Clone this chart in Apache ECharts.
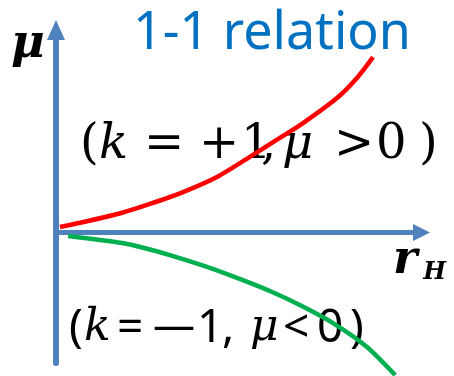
<!DOCTYPE html>
<html>
<head>
<meta charset="utf-8">
<script src="https://cdn.jsdelivr.net/npm/echarts@6/dist/echarts.min.js"></script>
<style>
  html, body { margin: 0; padding: 0; background: #ffffff; }
  #chart { width: 454px; height: 376px; }
</style>
</head>
<body>
<div id="chart"></div>
<script>
// Horizon radius r_H (abscissa) against mass parameter mu (ordinate)
const rH_pos = [0.11, 0.90, 1.85, 2.63, 3.56, 4.51, 5.43, 6.27, 6.92, 7.87, 8.43, 8.88];
const mu_pos = [0.28, 0.58, 0.99, 1.43, 2.02, 2.77, 3.77, 4.72, 5.46, 6.71, 7.71, 8.75];

const rH_neg = [0.34, 1.85, 2.58, 3.28, 4.23, 5.07, 5.99, 6.83, 7.76, 8.71, 9.50];
const mu_neg = [-0.17, -0.52, -0.82, -1.17, -1.71, -2.26, -2.91, -3.61, -4.51, -5.70, -7.10];

const axisRange = { xMin: 0, xMax: 10, yMin: -6.5, yMax: 9.6 };

const AXIS_BLUE = '#4f81bd';
const pairs = (xs, ys) => xs.map((x, i) => [x, ys[i]]);

const chart = echarts.init(document.getElementById('chart'), null, { renderer: 'canvas' });

const hiddenParts = {
  axisTick: { show: false },
  axisLabel: { show: false },
  splitLine: { show: false }
};

// Formula annotations, laid out glyph by glyph: [text, left, top, font]
const SERIF = '"DejaVu Serif"';
const SANS = '"Noto Sans"';
const upperFormula = [
  ['(', 80, 122, `48px ${SERIF}`],
  ['k', 99, 122, `italic 48px ${SERIF}`],
  ['=', 144, 122, `48px ${SERIF}`],
  ['+', 199, 122, `48px ${SERIF}`],
  ['1', 241, 122, `48px ${SERIF}`],
  [',', 261, 122, `48px ${SERIF}`],
  ['μ', 282, 122, `italic 48px ${SERIF}`],
  ['>', 334, 122, `48px ${SERIF}`],
  ['0', 376, 122, `48px ${SERIF}`],
  [')', 419, 122, `48px ${SERIF}`]
];
const lowerFormula = [
  ['(', 69, 306, `46px ${SANS}`],
  ['k', 84, 307, `italic 44px ${SERIF}`],
  ['=', 117, 306, `46px ${SANS}`],
  ['—', 153, 307, `42px ${SANS}`],
  ['1', 197, 306, `46px ${SANS}`],
  [',', 222, 306, `46px ${SANS}`],
  ['μ', 250, 307, `italic 44px ${SERIF}`],
  ['<', 283, 306, `46px ${SANS}`],
  ['0', 317, 306, `46px ${SANS}`],
  [')', 350, 306, `46px ${SANS}`]
];
const glyphs = (list, z) => list.map(([t, left, top, font]) => ({
  type: 'text', left, top, z,
  style: { text: t, fill: '#000000', font }
}));

chart.setOption({
  animation: false,
  backgroundColor: '#ffffff',
  grid: { left: 56, right: 41, top: 40, bottom: 13, containLabel: false },
  xAxis: Object.assign({
    type: 'value',
    min: axisRange.xMin,
    max: axisRange.xMax,
    axisLine: {
      show: true,
      onZero: true,
      symbol: ['none', 'triangle'],
      symbolSize: [17, 17],
      symbolOffset: [0, 8.5],
      lineStyle: { color: AXIS_BLUE, width: 5 }
    }
  }, hiddenParts),
  yAxis: Object.assign({
    type: 'value',
    min: axisRange.yMin,
    max: axisRange.yMax,
    axisLine: {
      show: true,
      onZero: true,
      symbol: ['none', 'triangle'],
      symbolSize: [18, 20],
      symbolOffset: [0, 10],
      lineStyle: { color: AXIS_BLUE, width: 6 }
    }
  }, hiddenParts),
  series: [
    {
      name: 'k = +1',
      type: 'line',
      data: pairs(rH_pos, mu_pos),
      smooth: 0.25,
      showSymbol: false,
      clip: false,
      lineStyle: { color: '#ff0000', width: 4.5 },
      z: 3
    },
    {
      name: 'k = -1',
      type: 'line',
      data: pairs(rH_neg, mu_neg),
      smooth: 0.25,
      showSymbol: false,
      clip: false,
      lineStyle: { color: '#00b050', width: 4.5 },
      z: 3
    }
  ],
  graphic: [
    {
      type: 'text', left: 133, top: 8, z: 10,
      style: { text: '1-1 relation', fill: '#0070c0', font: '52px "Noto Sans"' }
    },
    {
      type: 'text', left: 11, top: 22, z: 10,
      style: { text: 'μ', fill: '#000000', font: 'italic bold 46px "DejaVu Serif"' }
    },
    {
      type: 'text', left: 393, top: 238, z: 10,
      style: {
        text: '{r|r}{h|H}',
        rich: {
          r: { font: 'italic bold 46px "DejaVu Serif"', fill: '#000000' },
          h: { font: 'italic bold 24px "DejaVu Serif"', fill: '#000000', padding: [24, 0, 0, 6] }
        }
      }
    }
  ].concat(glyphs(upperFormula, 1), glyphs(lowerFormula, 1))
});
</script>
</body>
</html>
